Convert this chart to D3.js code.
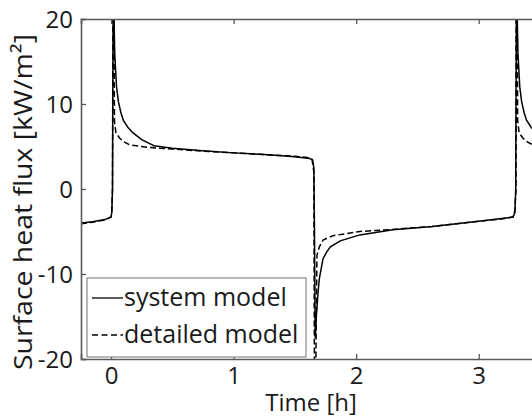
<!DOCTYPE html>
<html><head><meta charset="utf-8">
<script src="https://cdn.jsdelivr.net/npm/d3@7"></script>
<style>body{margin:0;background:#fff}svg{display:block}text{font-family:"Open Sans",sans-serif;fill:#1a1a1a}</style>
</head><body>
<svg id="c" width="532" height="419"></svg>
<script>
const xTicks = [0, 1, 2, 3];
const yTicks = [-20, -10, 0, 10, 20];
const seriesNames = ["system model", "detailed model"];
const systemModel = [[-0.245,-4.0],[-0.15,-3.85],[-0.05,-3.6],[0.0,-3.3],[0.006,-2.8],[0.012,0],[0.018,25],[0.03,16],[0.045,12],[0.06,10.3],[0.08,9],[0.1,8.1],[0.14,7.2],[0.18,6.6],[0.25,5.8],[0.35,5.1],[0.5,4.8],[0.75,4.5],[1.0,4.25],[1.25,4.05],[1.5,3.8],[1.62,3.6],[1.645,3.4],[1.655,2.5],[1.66,-5],[1.666,-17.5],[1.675,-15],[1.69,-12],[1.70,-10.5],[1.73,-8.2],[1.76,-7.4],[1.79,-6.8],[1.87,-6.1],[2.03,-5.4],[2.3,-4.8],[2.62,-4.4],[3.0,-3.8],[3.17,-3.5],[3.28,-3.3],[3.295,-2.8],[3.302,0],[3.308,25],[3.32,16],[3.335,12],[3.35,10.3],[3.37,9],[3.39,8.1],[3.43,7.2],[3.47,6.6],[3.54,5.8]];
const detailedModel = [[-0.245,-4.1],[-0.15,-3.9],[-0.05,-3.65],[0.0,-3.3],[0.006,-2.8],[0.012,0],[0.016,25],[0.022,25],[0.028,8],[0.04,6.6],[0.07,6.0],[0.1,5.6],[0.15,5.2],[0.3,4.9],[0.5,4.7],[0.75,4.45],[1.0,4.25],[1.25,4.05],[1.5,3.85],[1.6,3.7],[1.64,3.5],[1.655,2],[1.66,-25],[1.668,-25],[1.68,-7.8],[1.70,-6.8],[1.73,-6.0],[1.81,-5.5],[2.03,-5.0],[2.3,-4.75],[2.62,-4.4],[3.0,-3.8],[3.2,-3.5],[3.28,-3.3],[3.295,-2.5],[3.304,0],[3.306,25],[3.312,25],[3.318,8],[3.33,6.6],[3.36,6.0],[3.39,5.6],[3.44,5.2],[3.54,4.9]];

const svg = d3.select("#c");
const L = 81, R = 540, T = 19, B = 359;
const x = d3.scaleLinear().domain([-0.245, 3.5]).range([L, R]);
const y = d3.scaleLinear().domain([-20, 20]).range([B, T]);
const axisColor = "#5a5a5a";

svg.append("defs").append("clipPath").attr("id","clip")
  .append("rect").attr("x", L).attr("y", T).attr("width", R-L).attr("height", B-T);

const line = d3.line().x(d=>x(d[0])).y(d=>y(d[1]));
const g = svg.append("g").attr("clip-path","url(#clip)");
g.append("path").datum(systemModel).attr("d", line).attr("fill","none").attr("stroke","#000").attr("stroke-width",1.5);
g.append("path").datum(detailedModel).attr("d", line).attr("fill","none").attr("stroke","#000").attr("stroke-width",1.5).attr("stroke-dasharray","6,3");

// axes
const fmt = d => String(d);
const axB = svg.append("g").attr("transform",`translate(0,${B})`)
  .call(d3.axisBottom(x).tickValues(xTicks).tickSize(-5).tickPadding(14).tickFormat(fmt));
const axT = svg.append("g").attr("transform",`translate(0,${T})`)
  .call(d3.axisTop(x).tickValues(xTicks).tickSize(-5).tickFormat(""));
const axL = svg.append("g").attr("transform",`translate(${L},0)`)
  .call(d3.axisLeft(y).tickValues(yTicks).tickSize(-5).tickPadding(8).tickFormat(fmt));
[axB, axT, axL].forEach(a=>{
  a.select(".domain").attr("stroke", axisColor).attr("stroke-width",1.6);
  a.selectAll(".tick line").attr("stroke", axisColor).attr("stroke-width",1.3);
  a.selectAll("text").style("font-size","24px").attr("fill","#1a1a1a").style("font-family","'Open Sans',sans-serif");
});
axB.selectAll(".tick text").attr("dy","0.45em");
axL.selectAll(".tick text").attr("dy","0.36em");

svg.append("text").attr("x", 311).attr("y", 411).attr("text-anchor","middle").style("font-size","24px").text("Time [h]");
svg.append("text").attr("transform","translate(32,202) rotate(-90)").attr("text-anchor","middle").style("font-size","25px")
  .attr("textLength", 336).attr("lengthAdjust","spacingAndGlyphs").text("Surface heat flux [kW/m²]");

// legend
const lg = svg.append("g");
lg.append("rect").attr("x",87).attr("y",278).attr("width",219).attr("height",79).attr("fill","#fff").attr("stroke","#8a8a8a").attr("stroke-width",1.2);
const legendY = [298, 335];
seriesNames.forEach((n,i)=>{
  lg.append("line").attr("x1",92).attr("x2",123).attr("y1",legendY[i]).attr("y2",legendY[i])
    .attr("stroke","#000").attr("stroke-width",1.3).attr("stroke-dasharray", i ? "6,3.5" : null);
  lg.append("text").attr("x",124).attr("y",legendY[i]+8).style("font-size","25px").text(n);
});
</script>
</body></html>
